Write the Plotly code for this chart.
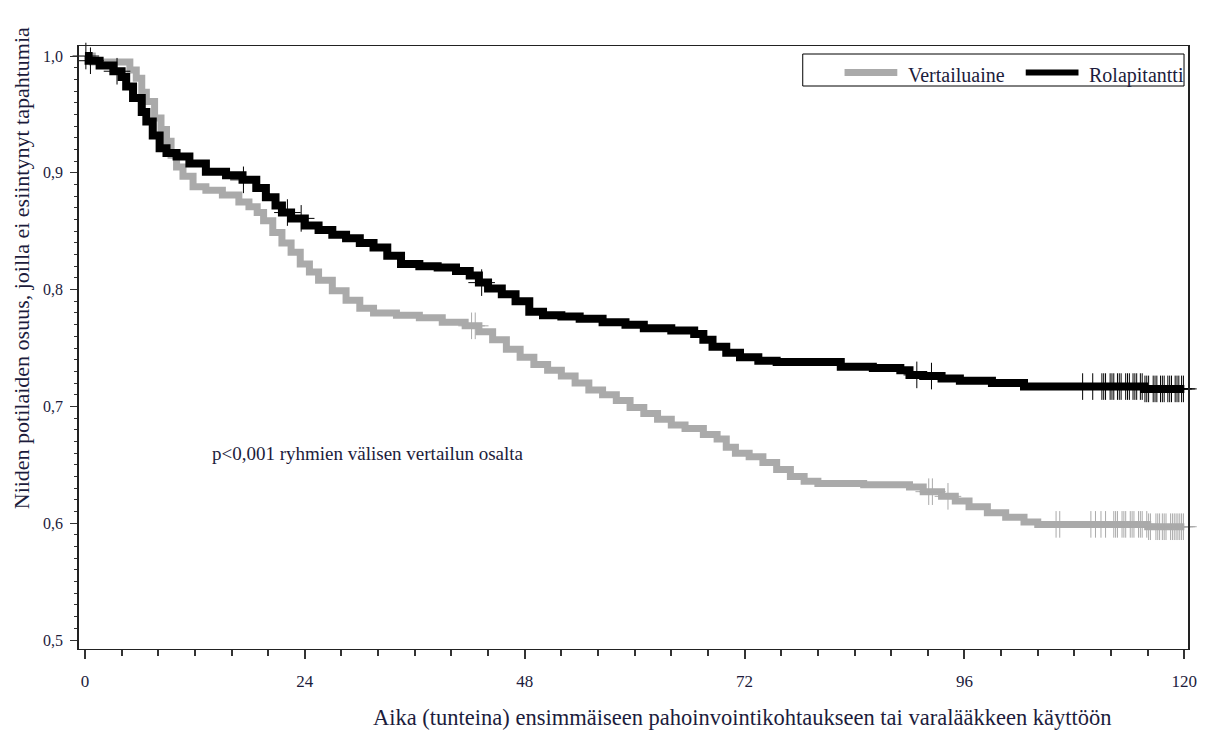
import plotly.graph_objects as go

# ---------------- data ----------------
x_ticks = [0, 24, 48, 72, 96, 120]
x_ticktext = ["0", "24", "48", "72", "96", "120"]
y_ticks = [0.5, 0.6, 0.7, 0.8, 0.9, 1.0]
y_ticktext = ["0,5", "0,6", "0,7", "0,8", "0,9", "1,0"]

series_names = ["Vertailuaine", "Rolapitantti"]

# Rolapitantti (black) Kaplan-Meier steps
rola_t = [0, 0.4, 1.6, 3.1, 4.0, 4.5, 5.25, 6.2, 6.7, 7.4, 8.15, 8.9, 10.0, 11.4,
          13.2, 15.4, 17.2, 18.7, 19.75, 20.8, 21.5, 22.5, 24.0, 25.5, 27.0, 28.5,
          30.0, 31.5, 33.0, 34.5, 36.5, 38.5, 40.5, 42.0, 43.0, 44.0, 45.5, 47.0,
          48.5, 50.0, 52.0, 54.0, 56.5, 59.0, 61.0, 64.0, 66.5, 67.5, 68.5, 70.0,
          71.5, 73.5, 75.5, 82.5, 86.0, 89.0, 90.0, 91.5, 93.5, 95.5, 99.0, 102.5,
          115.6, 120.0]
rola_s = [1.0, 0.996, 0.992, 0.987, 0.982, 0.974, 0.964, 0.952, 0.944, 0.932, 0.921,
          0.917, 0.914, 0.908, 0.901, 0.898, 0.894, 0.887, 0.879, 0.872, 0.866,
          0.861, 0.855, 0.851, 0.847, 0.844, 0.84, 0.836, 0.829, 0.822, 0.82,
          0.819, 0.816, 0.812, 0.806, 0.801, 0.796, 0.79, 0.781, 0.778, 0.777,
          0.775, 0.772, 0.77, 0.767, 0.765, 0.762, 0.757, 0.751, 0.746, 0.742,
          0.739, 0.738, 0.734, 0.733, 0.731, 0.727, 0.726, 0.724, 0.722, 0.72,
          0.717, 0.715, 0.715]

# Vertailuaine (grey) Kaplan-Meier steps
vert_t = [0, 0.8, 4.9, 5.6, 6.2, 6.7, 7.6, 8.3, 8.9, 9.4, 10.0, 10.7, 11.8, 13.2,
          15.0, 16.8, 17.9, 18.8, 19.5, 20.5, 21.5, 22.5, 23.5, 24.5, 25.5, 27.0,
          28.5, 30.0, 31.5, 34.0, 36.5, 39.0, 41.5, 43.0, 44.5, 46.0, 47.5, 49.0,
          50.5, 52.0, 53.5, 55.0, 56.5, 58.0, 59.5, 61.0, 62.5, 64.0, 65.5, 67.5,
          69.0, 70.0, 71.0, 72.5, 74.0, 75.5, 77.0, 78.5, 80.0, 85.0, 90.0, 91.5,
          93.5, 95.0, 96.5, 98.5, 100.5, 102.5, 104.0, 116.0, 120.0]
vert_s = [1.0, 0.995, 0.988, 0.981, 0.969, 0.961, 0.947, 0.937, 0.927, 0.915, 0.905,
          0.897, 0.888, 0.885, 0.881, 0.875, 0.871, 0.866, 0.859, 0.849, 0.84,
          0.832, 0.822, 0.815, 0.808, 0.799, 0.791, 0.784, 0.78, 0.778, 0.776,
          0.772, 0.769, 0.764, 0.757, 0.749, 0.742, 0.736, 0.731, 0.726, 0.72,
          0.714, 0.71, 0.705, 0.699, 0.694, 0.689, 0.684, 0.681, 0.676, 0.672,
          0.665, 0.66, 0.657, 0.652, 0.646, 0.64, 0.636, 0.634, 0.633, 0.631,
          0.627, 0.623, 0.619, 0.614, 0.609, 0.605, 0.601, 0.599, 0.597, 0.597]

# censoring times
rola_cens = [0.1, 0.6, 3.5, 17.3, 22.1, 23.6, 43.3, 90.8, 92.4, 108.9, 110.0,
             111.0, 111.2, 111.4, 111.9, 112.1, 112.3, 112.7, 112.9, 113.1, 113.6,
             113.8, 114.0, 114.4, 114.6, 114.8, 115.2, 115.4, 115.7, 115.9, 116.1,
             116.6, 116.8, 117.0, 117.4, 117.6, 117.8, 118.2, 118.4, 118.6, 119.0,
             119.2, 119.4, 119.7, 119.9]
vert_cens = [42.2, 42.6, 92.1, 92.5, 94.2, 106.0, 106.4, 109.8, 110.3, 110.9, 111.4,
             112.3, 112.5, 112.7, 113.2, 113.4, 113.6, 114.1, 114.3, 114.5, 115.0,
             115.2, 115.4, 115.9, 116.1, 116.3, 116.9, 117.1, 117.3, 117.6, 117.8,
             118.0, 118.5, 118.7, 118.9, 119.1, 119.3, 119.5, 119.7, 119.9]

p_text = "p<0,001 ryhmien välisen vertailun osalta"
x_title = "Aika (tunteina) ensimmäiseen pahoinvointikohtaukseen tai varalääkkeen käyttöön"
y_title = "Niiden potilaiden osuus, joilla ei esiintynyt tapahtumia"

# ---------------- style ----------------
FONT = "Liberation Serif, Times New Roman, serif"
TXT = "#1c1c3c"
GREY = "#aaaaaa"
BLACK = "#000000"

OFF = 8                      # default body margin of the html page
PAGE_W, PAGE_H = 1209, 731
W, H = PAGE_W - OFF, PAGE_H - OFF
PL, PR, PT, PB = 79, 1193, 46, 649   # plot area in page pixels


def px_x(px):
    return (px - PL) / (PR - PL)


def px_y(py):
    return (PB - py) / (PB - PT)


def km_at(t, times, surv):
    val = surv[0]
    for ti, si in zip(times, surv):
        if ti <= t:
            val = si
        else:
            break
    return val


fig = go.Figure()

fig.add_trace(go.Scatter(x=vert_t, y=vert_s, mode="lines", name=series_names[0],
                         line=dict(color=GREY, width=7, shape="hv"), showlegend=False))
fig.add_trace(go.Scatter(x=vert_cens, y=[km_at(t, vert_t, vert_s) for t in vert_cens],
                         mode="markers", name=series_names[0] + " (sensuroitu)",
                         marker=dict(symbol="cross-thin", size=19, line=dict(color=GREY, width=1)),
                         showlegend=False, cliponaxis=False))
fig.add_trace(go.Scatter(x=rola_t, y=rola_s, mode="lines", name=series_names[1],
                         line=dict(color=BLACK, width=8, shape="hv"), showlegend=False))
fig.add_trace(go.Scatter(x=rola_cens, y=[km_at(t, rola_t, rola_s) for t in rola_cens],
                         mode="markers", name=series_names[1] + " (sensuroitu)",
                         marker=dict(symbol="cross-thin", size=19, line=dict(color=BLACK, width=1)),
                         showlegend=False, cliponaxis=False))

# legend drawn as a SAS-style box
shapes = [
    dict(type="rect", xref="paper", yref="paper",
         x0=px_x(806), x1=px_x(1189), y0=px_y(86), y1=px_y(54),
         line=dict(color="#000000", width=1), fillcolor="rgba(0,0,0,0)"),
    dict(type="line", xref="paper", yref="paper",
         x0=px_x(848), x1=px_x(901), y0=px_y(72.5), y1=px_y(72.5),
         line=dict(color=GREY, width=7)),
    dict(type="line", xref="paper", yref="paper",
         x0=px_x(1030), x1=px_x(1083), y0=px_y(72.5), y1=px_y(72.5),
         line=dict(color=BLACK, width=6)),
]

annotations = [
    dict(text=series_names[0], xref="paper", yref="paper", x=px_x(910), y=px_y(75),
         xanchor="left", yanchor="middle", showarrow=False,
         font=dict(family=FONT, size=20, color=TXT)),
    dict(text=series_names[1], xref="paper", yref="paper", x=px_x(1092), y=px_y(75),
         xanchor="left", yanchor="middle", showarrow=False,
         font=dict(family=FONT, size=20, color=TXT)),
    dict(text=p_text, xref="x", yref="y", x=13.6, y=0.66,
         xanchor="left", yanchor="middle", showarrow=False,
         font=dict(family=FONT, size=19, color=TXT)),
    dict(text=x_title, xref="paper", yref="paper", x=px_x(745), y=px_y(717),
         xanchor="center", yanchor="middle", showarrow=False,
         font=dict(family=FONT, size=22.5, color=TXT)),
    dict(text=y_title, xref="paper", yref="paper", x=px_x(21), y=px_y(268),
         xanchor="center", yanchor="middle", showarrow=False, textangle=-90,
         font=dict(family=FONT, size=22, color=TXT)),
]

fig.update_layout(
    width=W, height=H,
    margin=dict(l=PL - OFF, r=PAGE_W - PR, t=PT - OFF, b=PAGE_H - PB, pad=0),
    paper_bgcolor="white", plot_bgcolor="white",
    showlegend=False,
    shapes=shapes, annotations=annotations,
    font=dict(family=FONT, color=TXT),
)

fig.update_xaxes(
    range=[-0.65, 120.4], tickvals=x_ticks, ticktext=x_ticktext,
    showgrid=False, zeroline=False,
    showline=True, linecolor="#222222", linewidth=1, mirror=True,
    ticks="outside", ticklen=9, tickwidth=1.5, tickcolor="#333333",
    ticklabelstandoff=8,
    tickfont=dict(family=FONT, size=17, color=TXT),
    minor=dict(dtick=4, tick0=0, ticks="outside", ticklen=6, tickwidth=1.5,
               tickcolor="#333333", showgrid=False),
)
fig.update_yaxes(
    range=[0.4923, 1.0086], tickvals=y_ticks, ticktext=y_ticktext,
    showgrid=False, zeroline=False,
    showline=True, linecolor="#222222", linewidth=1.5, mirror=True,
    ticks="outside", ticklen=7, tickwidth=1, tickcolor="#333333",
    ticklabelstandoff=4,
    tickfont=dict(family=FONT, size=16, color=TXT),
    minor=dict(dtick=0.01, tick0=0.5, ticks="outside", ticklen=3, tickwidth=1,
               tickcolor="#333333", showgrid=False),
)

fig.write_html("out.html")
